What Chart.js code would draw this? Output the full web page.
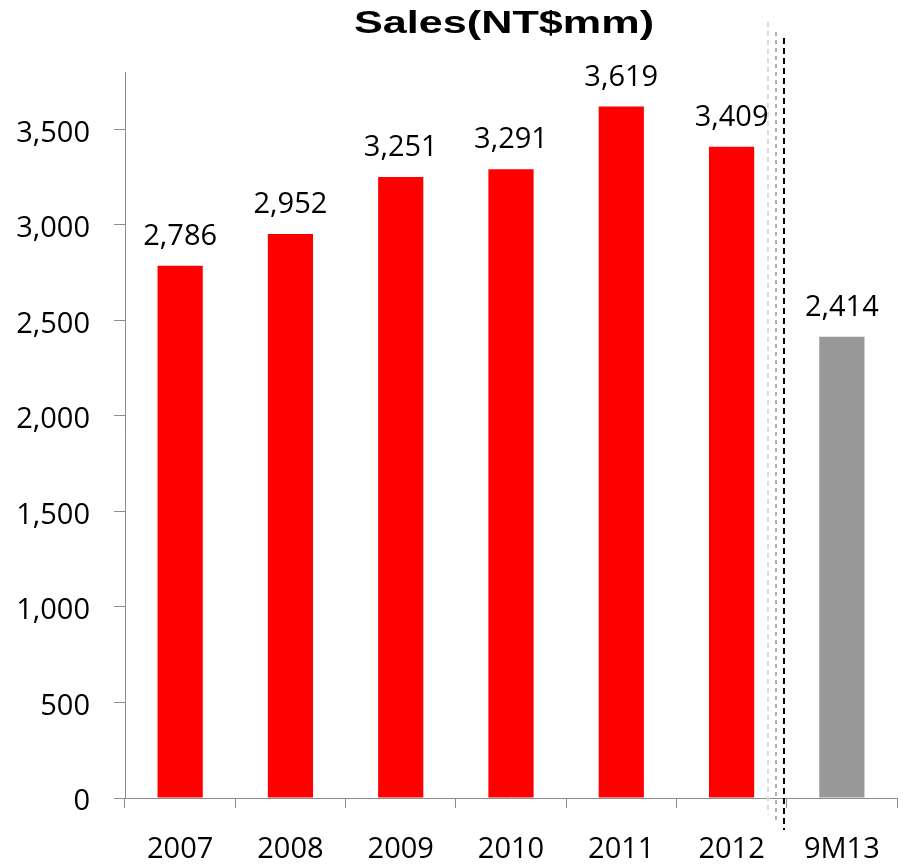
<!DOCTYPE html>
<html>
<head>
<meta charset="utf-8">
<script src="https://cdn.jsdelivr.net/npm/chart.js@4"></script>
<style>
html,body{margin:0;padding:0;background:#fff;}
#wrap{width:906px;height:865px;position:relative;}
</style>
</head>
<body>
<div id="wrap"><canvas id="c" width="906" height="865"></canvas></div>
<script>
const categories = ['2007', '2008', '2009', '2010', '2011', '2012', '9M13'];
const salesValues = [2786, 2952, 3251, 3291, 3619, 3409, 2414];
const barColors = ['#FF0000', '#FF0000', '#FF0000', '#FF0000', '#FF0000', '#FF0000', '#999999'];
const yTickValues = [0, 500, 1000, 1500, 2000, 2500, 3000, 3500];
const chartTitle = 'Sales(NT$mm)';

const FONT = "'Open Sans', sans-serif";
const AXIS = '#8c8c8c';

const titlePlugin = {
  id: 'stretchTitle',
  afterDraw(chart) {
    const ctx = chart.ctx;
    ctx.save();
    ctx.font = "bold 32px 'Liberation Sans', Arial, sans-serif";
    ctx.fillStyle = '#000';
    ctx.textAlign = 'center';
    ctx.textBaseline = 'alphabetic';
    ctx.translate(504, 33);
    ctx.scale(1.35, 1);
    ctx.fillText(chartTitle, 0, 0);
    ctx.restore();
  }
};

const labelPlugin = {
  id: 'valueLabels',
  afterDatasetsDraw(chart) {
    const ctx = chart.ctx;
    const meta = chart.getDatasetMeta(0);
    ctx.save();
    ctx.font = '29px ' + FONT;
    ctx.fillStyle = '#000';
    ctx.textAlign = 'center';
    ctx.textBaseline = 'alphabetic';
    meta.data.forEach((bar, i) => {
      const v = salesValues[i];
      ctx.fillText(v.toLocaleString('en-US'), bar.x, bar.y - 21);
    });
    ctx.restore();
  }
};

const dividerPlugin = {
  id: 'divider',
  afterDraw(chart) {
    const xs = chart.scales.x;
    const b = (xs.getPixelForValue(5) + xs.getPixelForValue(6)) / 2;
    const ctx = chart.ctx;
    const lines = [
      {dx: -19, color: '#dcdcdc', w: 2, dash: [5, 4], y0: 22, y1: 815},
      {dx: -11, color: '#b0b0b0', w: 2, dash: [4, 4], y0: 32, y1: 820},
      {dx: -3, color: '#000000', w: 2, dash: [6, 4], y0: 38, y1: 830}
    ];
    ctx.save();
    lines.forEach(l => {
      ctx.beginPath();
      ctx.setLineDash(l.dash);
      ctx.strokeStyle = l.color;
      ctx.lineWidth = l.w;
      ctx.moveTo(Math.round(b + l.dx), l.y0);
      ctx.lineTo(Math.round(b + l.dx), l.y1);
      ctx.stroke();
    });
    ctx.restore();
  }
};

new Chart(document.getElementById('c'), {
  type: 'bar',
  data: {
    labels: categories,
    datasets: [{
      data: salesValues,
      backgroundColor: barColors,
      borderWidth: 0,
      barPercentage: 0.41,
      categoryPercentage: 1
    }]
  },
  options: {
    responsive: false,
    animation: false,
    devicePixelRatio: 1,
    layout: {padding: {top: 72, right: 9, left: 0, bottom: 0}},
    plugins: {
      legend: {display: false},
      title: {display: false},
      tooltip: {enabled: false}
    },
    scales: {
      x: {
        offset: true,
        grid: {display: true, drawOnChartArea: false, drawTicks: true, tickLength: 10, color: AXIS, offset: true},
        border: {display: true, color: AXIS, width: 1},
        ticks: {color: '#000', font: {family: FONT, size: 29}, padding: 24, maxRotation: 0, autoSkip: false},
        afterFit(s) { s.height = 67; }
      },
      y: {
        min: 0,
        max: 3800,
        afterBuildTicks(s) { s.ticks = yTickValues.map(v => ({value: v})); },
        grid: {display: true, drawOnChartArea: false, drawTicks: true, tickLength: 11, color: AXIS},
        border: {display: true, color: AXIS, width: 1},
        ticks: {
          color: '#000',
          font: {family: FONT, size: 29},
          padding: 24,
          labelOffset: 4,
          callback: v => Number(v).toLocaleString('en-US')
        },
        afterFit(s) { s.width = 125; }
      }
    }
  },
  plugins: [titlePlugin, labelPlugin, dividerPlugin]
});
</script>
</body>
</html>
